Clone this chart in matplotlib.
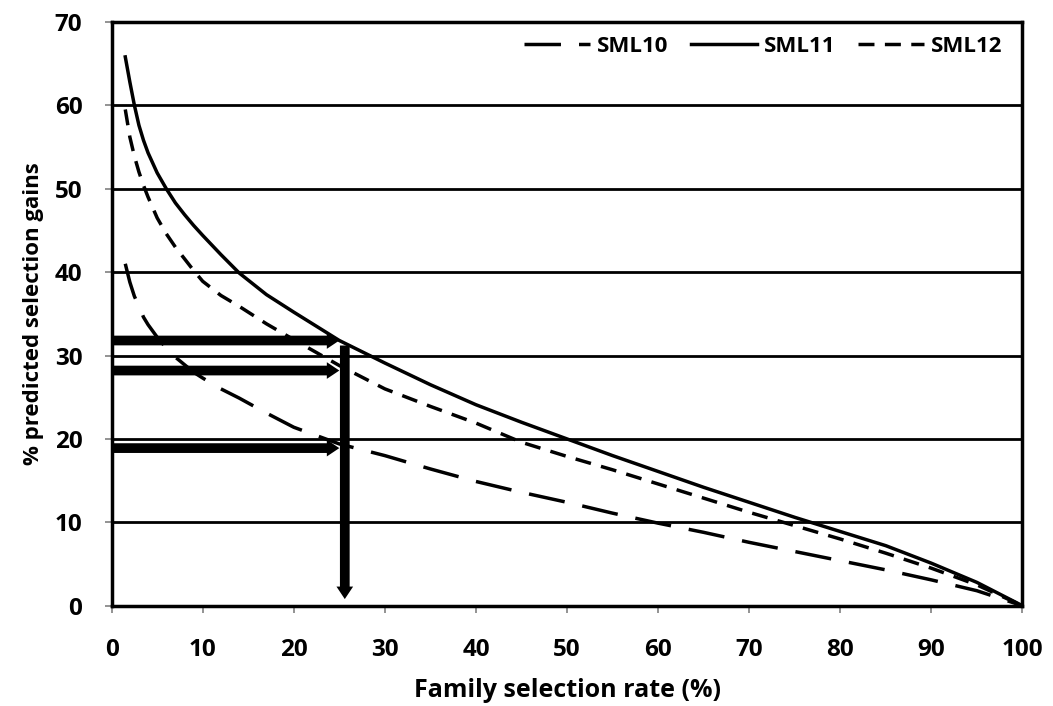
import matplotlib.pyplot as plt

# values
rate = [1.5, 2, 2.5, 3, 3.5, 4, 5, 6, 7, 8, 9, 10, 12, 14, 17, 20, 25, 30, 35,
        40, 45, 50, 55, 60, 65, 70, 75, 80, 85, 90, 95, 100]
sml10 = [41.0, 38.8, 37.1, 35.9, 34.6, 33.7, 32.2, 30.9, 29.8, 28.9, 28.0, 27.3,
         26.0, 24.9, 23.1, 21.4, 19.4, 18.0, 16.4, 14.9, 13.6, 12.4, 11.1, 9.9,
         8.8, 7.6, 6.5, 5.4, 4.3, 3.1, 1.8, 0.0]
sml11 = [65.8, 62.8, 60.0, 57.6, 55.8, 54.3, 51.9, 50.0, 48.3, 46.9, 45.6, 44.4,
         42.1, 39.9, 37.3, 35.2, 31.8, 29.1, 26.5, 24.1, 22.0, 20.0, 18.0, 16.1,
         14.2, 12.4, 10.6, 8.9, 7.2, 5.1, 2.8, 0.0]
sml12 = [59.5, 56.2, 53.9, 52.0, 50.4, 49.0, 46.5, 44.6, 43.0, 41.6, 40.2, 38.9,
         37.2, 35.9, 33.8, 31.9, 28.8, 26.0, 23.9, 21.9, 19.6, 17.9, 16.3, 14.6,
         12.9, 11.2, 9.6, 8.0, 6.3, 4.5, 2.5, 0.0]

# arrows marking the 25 % selection rate
arrow_levels = [31.8, 28.2, 18.9]
arrow_rate = 25
vert_rate = 25.6
vert_top, vert_bottom = 31.2, 0.8

x_ticks = list(range(0, 101, 10))
y_ticks = list(range(0, 71, 10))

plt.rcParams['font.family'] = ['Open Sans', 'DejaVu Sans']
plt.rcParams['font.weight'] = 'bold'

fig = plt.figure(figsize=(10.53, 7.06), dpi=100)
ax = fig.add_axes([0.106, 0.142, 0.865, 0.827])

ax.plot(rate, sml10, color='black', lw=2.5, linestyle=(0, (10.5, 5.2)),
        label='SML10', dash_capstyle='butt')
ax.plot(rate, sml11, color='black', lw=2.5, label='SML11')
ax.plot(rate, sml12, color='black', lw=2.5, linestyle=(0, (4.6, 3.0)),
        label='SML12', dash_capstyle='butt')

arrow = dict(arrowstyle='simple,tail_width=0.7,head_width=1.2,head_length=0.9',
             mutation_scale=10, color='black', lw=0, shrinkA=0, shrinkB=0)
for lvl in arrow_levels:
    ax.annotate('', xy=(arrow_rate, lvl), xytext=(0, lvl), arrowprops=arrow)
ax.annotate('', xy=(vert_rate, vert_bottom), xytext=(vert_rate, vert_top),
            arrowprops=arrow)

ax.set_xlim(0, 100)
ax.set_ylim(0, 70)
ax.set_xticks(x_ticks)
ax.set_yticks(y_ticks)
ax.yaxis.grid(True, color='black', lw=2)
ax.set_axisbelow(True)
ax.tick_params(direction='out', length=5, width=1.2, color='#808080',
               labelsize=17.5)
ax.tick_params(axis='x', pad=18)
ax.tick_params(axis='y', pad=16)
for lab in ax.get_xticklabels() + ax.get_yticklabels():
    lab.set_fontweight('bold')
for s in ax.spines.values():
    s.set_linewidth(2.5)
    s.set_color('black')

ax.set_xlabel('Family selection rate (%)', fontsize=18, fontweight='bold', labelpad=12)
ax.set_ylabel('% predicted selection gains', fontsize=16, fontweight='bold', labelpad=8)

leg = ax.legend(loc='upper right', ncol=3, frameon=False, fontsize=16,
                handlelength=3.0, columnspacing=1.0, handletextpad=0.3,
                bbox_to_anchor=(1.0, 1.01))
for t in leg.get_texts():
    t.set_fontweight('bold')

plt.savefig('out.png', dpi=100)
